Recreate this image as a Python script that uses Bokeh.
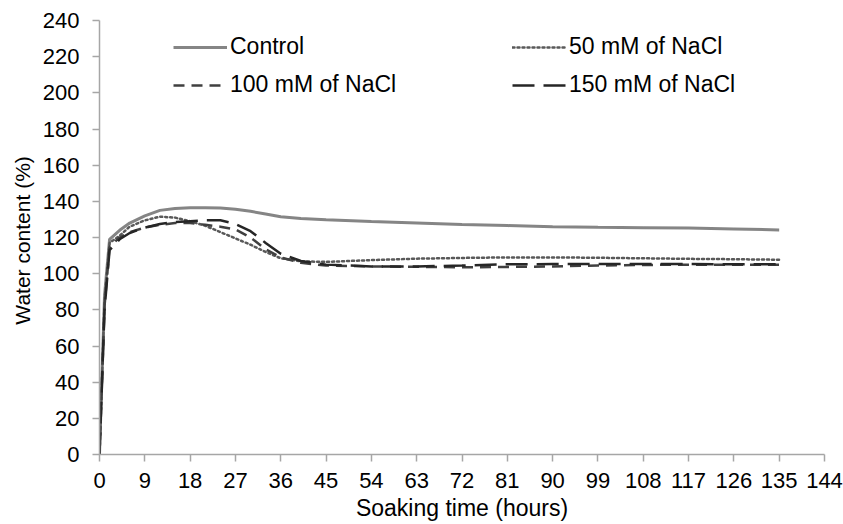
from bokeh.plotting import figure
from bokeh.models import Range1d, FixedTicker, Legend, LegendItem
from bokeh.embed import file_html
from bokeh.resources import INLINE

time_h = [0, 1, 2, 4, 6, 9, 12, 15, 18, 21, 24, 27, 30, 33, 36, 40, 45, 54, 63, 72, 81, 90, 99, 108, 117, 126, 135]
control = [0, 88, 119, 124, 128, 132, 135, 136, 136.5, 136.5, 136.3, 135.6, 134.5, 133, 131.5, 130.5, 129.8, 128.8, 128, 127.2, 126.6, 126, 125.6, 125.4, 125.2, 124.7, 124.2]
nacl_50 = [0, 85, 117, 121, 126, 129.5, 131.5, 131, 129, 126.5, 123, 119.5, 116, 112, 108.5, 106.8, 106.5, 107.5, 108.3, 108.7, 109, 109, 108.8, 108.5, 108.2, 108, 107.7]
nacl_100 = [0, 82, 115, 120, 123, 125.5, 127, 128, 128, 127, 126, 124.5, 120, 113.5, 109, 106, 104.5, 104, 103.8, 103.5, 103.7, 104, 104.5, 104.8, 105, 105, 105]
nacl_150 = [0, 80, 113, 119, 122.5, 125.5, 127.5, 128.5, 129, 129.5, 129.5, 127.5, 123.5, 117, 111, 107, 105, 104, 104, 104.5, 105.2, 105.3, 105.3, 105.3, 105.3, 105.2, 105.2]

series_labels = ["Control", "50 mM of NaCl", "100 mM of NaCl", "150 mM of NaCl"]
x_ticks = list(range(0, 145, 9))
y_ticks = list(range(0, 241, 20))
x_title = "Soaking time (hours)"
y_title = "Water content  (%)"

FONT = "Liberation Sans"
AXIS_COLOR = "#a6a6a6"

p = figure(width=843, height=524, x_range=Range1d(0, 144), y_range=Range1d(0, 240),
           output_backend="svg", toolbar_location=None,
           min_border_left=99, min_border_right=19, min_border_top=20, min_border_bottom=70)
p.xgrid.visible = False
p.ygrid.visible = False
p.outline_line_color = None
p.background_fill_color = "white"
p.border_fill_color = "white"

p.xaxis.ticker = FixedTicker(ticks=x_ticks)
p.yaxis.ticker = FixedTicker(ticks=y_ticks)
for ax in (p.xaxis[0], p.yaxis[0]):
    ax.axis_line_color = AXIS_COLOR
    ax.axis_line_width = 1.5
    ax.major_tick_line_color = AXIS_COLOR
    ax.major_tick_line_width = 1.5
    ax.major_tick_out = 7
    ax.major_tick_in = 0
    ax.minor_tick_line_color = None
    ax.major_label_text_font = FONT
    ax.major_label_text_font_size = "22px"
    ax.major_label_text_color = "black"
    ax.axis_label_text_font = FONT
    ax.axis_label_text_font_size = "21px"
    ax.axis_label_text_font_style = "normal"
    ax.axis_label_text_color = "black"

p.xaxis.axis_label = x_title
p.xaxis.axis_label_text_font_size = "23px"
p.yaxis.axis_label = y_title
p.xaxis.major_label_standoff = 11
p.xaxis.axis_label_standoff = 4
p.yaxis.major_label_standoff = 13
p.yaxis.axis_label_standoff = 6

r0 = p.line(time_h, control, line_color="#858585", line_width=3)
r1 = p.line(time_h, nacl_50, line_color="#595959", line_width=2.5, line_dash="2 3", line_cap="round")
r2 = p.line(time_h, nacl_100, line_color="#404040", line_width=2.5, line_dash="11 7")
r3 = p.line(time_h, nacl_150, line_color="#262626", line_width=2.5, line_dash="22 9")

def make_legend(items, loc):
    return Legend(items=items, location=loc, label_text_font=FONT,
                  label_text_font_size="23px", label_text_color="black",
                  glyph_width=54, glyph_height=24, label_height=24, label_standoff=3,
                  spacing=11, padding=0, margin=0, border_line_color=None,
                  background_fill_alpha=0)

leg1 = make_legend([LegendItem(label=series_labels[0], renderers=[r0]),
                    LegendItem(label=series_labels[2], renderers=[r2])], (74, 356))
leg2 = make_legend([LegendItem(label=series_labels[1], renderers=[r1]),
                    LegendItem(label=series_labels[3], renderers=[r3])], (413, 356))
p.add_layout(leg1)
p.add_layout(leg2)

open("out.html", "w").write(file_html(p, INLINE))
